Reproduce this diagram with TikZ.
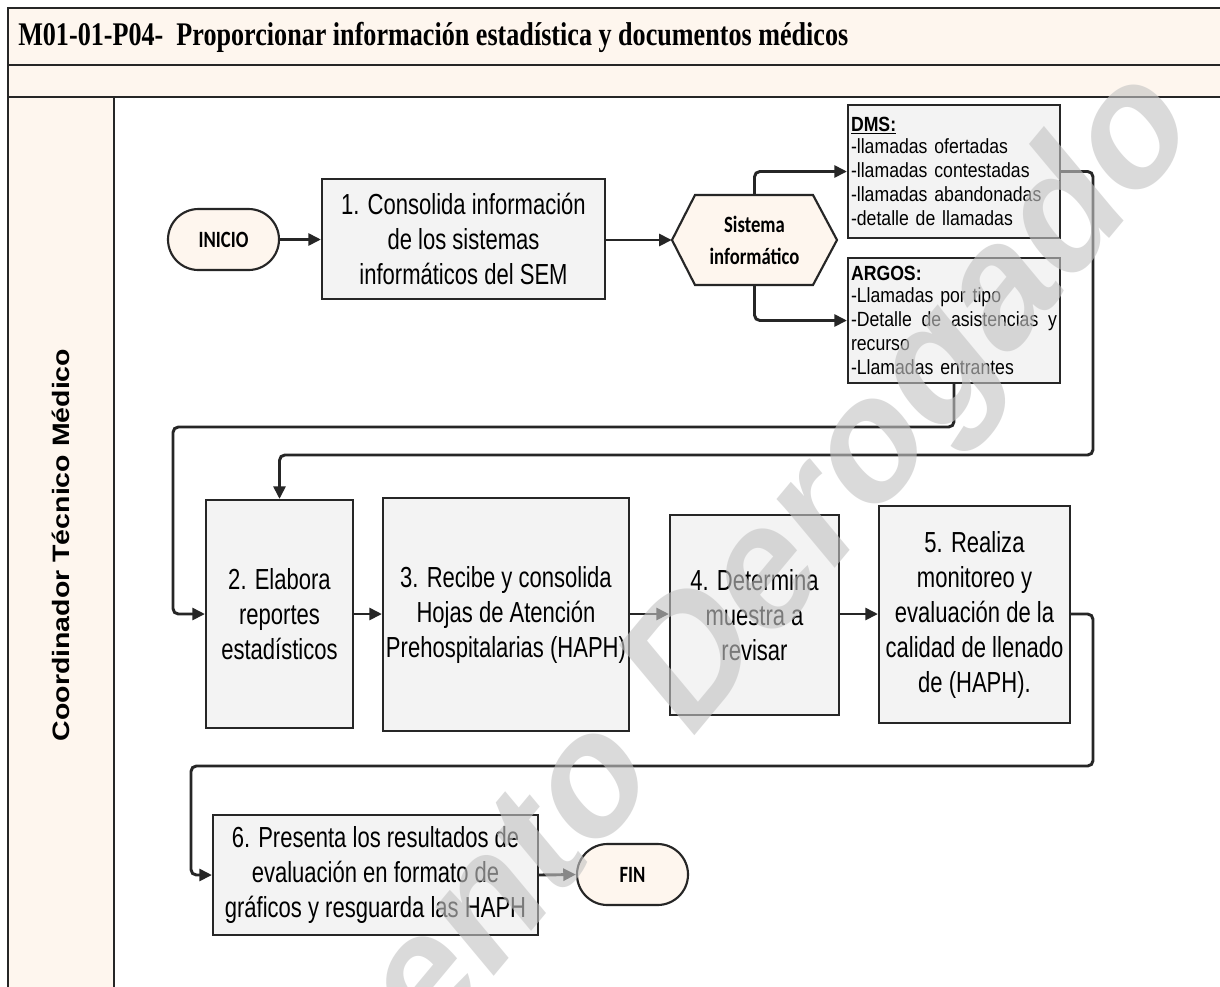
\documentclass[tikz,border=0pt]{standalone}
\usepackage{fontspec}
\setmainfont{Liberation Sans}
\newfontfamily\stepfont[FakeStretch=0.76]{Liberation Sans}
\newfontfamily\listfont[FakeStretch=0.86]{Liberation Sans}
\newfontfamily\lanefont[FakeStretch=1.2]{Liberation Sans}
\newfontfamily\calfont[FakeStretch=0.8]{Carlito}
\newfontfamily\titlefont{Liberation Serif}
\usetikzlibrary{arrows.meta,shapes.misc,calc}
\definecolor{peach}{RGB}{254,246,238}
\definecolor{boxgray}{RGB}{243,243,243}
\definecolor{ink}{RGB}{38,38,38}
\definecolor{wmgray}{RGB}{196,196,196}
\begin{document}
\begin{tikzpicture}[x=0.75pt,y=-0.75pt,
 frameline/.style={draw=ink,line width=2.2pt},
 stepbox/.style 2 args={draw=ink,line width=1.6pt,fill=boxgray,minimum width=#1*0.75pt,minimum height=#2*0.75pt,inner sep=0pt,align=center,font=\stepfont\fontsize{21.75pt}{26.25pt}\selectfont},
 term/.style 2 args={rounded rectangle,draw=ink,line width=1.6pt,fill=peach,minimum width=#1*0.75pt,minimum height=#2*0.75pt,inner sep=0pt,font=\calfont\bfseries\fontsize{17.5pt}{20pt}\selectfont},
 listbox/.style 2 args={draw=ink,line width=1.6pt,fill=boxgray,minimum width=#1*0.75pt,minimum height=#2*0.75pt,inner xsep=1.5pt,inner ysep=0pt,text width=154.5pt,align=left,font=\listfont\fontsize{15.4pt}{18pt}\selectfont},
 conn/.style={draw=ink,line width=2.2pt,rounded corners=4pt,-{Triangle[length=9.5pt,width=9pt]}},
]
\useasboundingbox (0,0) rectangle (1220,986);
\clip (0,0) rectangle (1220,986);
\fill[white] (0,0) rectangle (1220,986);
% frame
\fill[peach] (8,8) rectangle (1240,97);
\fill[peach] (8,97) rectangle (114,1000);
\draw[frameline] (8,1000) -- (8,8) -- (1240,8);
\draw[frameline] (8,65) -- (1240,65);
\draw[frameline] (8,97) -- (1240,97);
\draw[frameline] (114,97) -- (114,1000);
\node[anchor=west,font=\titlefont\bfseries\fontsize{22.5pt}{26pt}\selectfont,inner sep=0pt] (title) at (18,37)
 {\resizebox{622.5pt}{1.1\height}{M01-01-P04-~ Proporcionar información estadística y documentos médicos}};
\node[rotate=90,font=\lanefont\bfseries\fontsize{17.8pt}{20pt}\selectfont] (lane) at (61,545) {Coordinador Técnico Médico};
% nodes
\node[term={111}{61}] (inicio) at (223.5,239.5) {INICIO};
\node[stepbox={283}{120}] (b1) at (463.5,239) {1. Consolida información\\de los sistemas\\informáticos del SEM};
\path[fill=peach,draw=ink,line width=1.6pt] (672,240) -- (695,195) -- (813,195) -- (837,240) -- (813,285) -- (695,285) -- cycle;
\node[minimum width=165*0.75pt,minimum height=90*0.75pt,inner sep=0pt,align=center,font=\calfont\bfseries\fontsize{17.5pt}{24pt}\selectfont] (hex) at (754.5,240) {Sistema\\informático};
\node[listbox={212}{133}] (dms) at (954,171.5) {\textbf{\underline{DMS:}}\\[-1.5pt]-llamadas ofertadas\\-llamadas contestadas\\-llamadas abandonadas\\-detalle de llamadas};
\node[listbox={212}{125}] (argos) at (954,320.5) {\textbf{ARGOS:}\\[-1pt]-Llamadas por tipo\\-Detalle\hfill de\hfill asistencias\hfill y\\recurso\\-Llamadas entrantes};
\node[stepbox={147}{228}] (b2) at (279.5,614) {2. Elabora\\reportes\\estadísticos};
\node[stepbox={246}{233}] (b3) at (506,614.5) {3. Recibe y consolida\\Hojas de Atención\\Prehospitalarias (HAPH)};
\node[stepbox={169}{200}] (b4) at (754.5,615) {4. Determina\\muestra a\\revisar};
\node[stepbox={191}{217}] (b5) at (974.5,614.5) {5. Realiza\\monitoreo y\\evaluación de la\\calidad de llenado\\de (HAPH).};
\node[stepbox={325}{120}] (b6) at (375.5,875) {6. Presenta los resultados de\\evaluación en formato de\\gráficos y resguarda las HAPH};
\node[term={111}{61}] (fin) at (632.5,874.5) {FIN};
% connectors
\coordinate (row) at (0,614);
\coordinate (d1) at (1093,455);
\coordinate (a1) at (173,427);
\coordinate (c1) at (1093,766);
\coordinate (c2) at (191,766);
\draw[conn] (inicio.east) -- (inicio.east -| b1.west);
\draw[conn] (b1.east |- hex.west) -- (hex.west);
\draw[conn] (hex.north) |- (dms.west);
\draw[conn] (hex.south) |- (argos.west);
\draw[conn] (dms.east) -| (d1) -| (b2.north);
\draw[conn] (argos.south) |- (a1) |- (b2.west |- row);
\draw[conn] (b2.east |- row) -- (b3.west |- row);
\draw[conn] (b3.east |- row) -- (b4.west |- row);
\draw[conn] (b4.east |- row) -- (b5.west |- row);
\draw[conn] (b5.east |- row) -| (c1) -- (c2) |- (b6.west);
\draw[conn] (b6.east) -- (fin.west);
% watermark
\begin{scope}[shift={(1198,132)},yscale=1.2]
\node[transform shape,rotate=45,anchor=base east,inner sep=0pt,text=wmgray,text opacity=0.62,font=\bfseries\fontsize{116pt}{130pt}\selectfont] (wm) at (0,0) {Documento Derogado};
\end{scope}
\end{tikzpicture}
\end{document}
